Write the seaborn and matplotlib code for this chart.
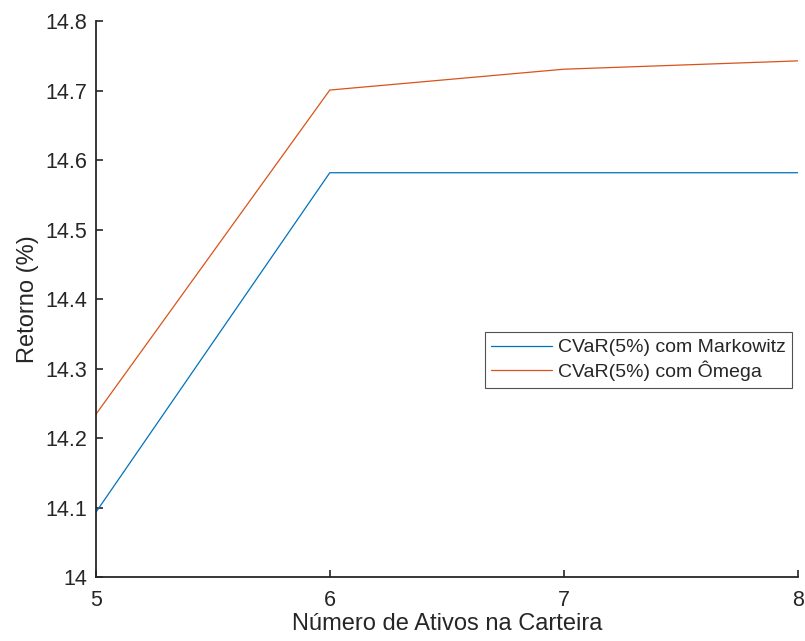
import pandas as pd
import matplotlib
matplotlib.use("Agg")
import matplotlib.pyplot as plt
import seaborn as sns

# dados
num_ativos = [5, 6, 7, 8]
ret_markowitz = [14.093, 14.582, 14.582, 14.582]
ret_omega = [14.234, 14.701, 14.731, 14.743]
nomes = ["CVaR(5%) com Markowitz", "CVaR(5%) com Ômega"]

df = pd.DataFrame({
    "ativos": num_ativos * 2,
    "retorno": ret_markowitz + ret_omega,
    "serie": [nomes[0]] * 4 + [nomes[1]] * 4,
})

sns.set_style("white")
plt.rcParams['font.family'] = ['Liberation Sans', 'DejaVu Sans']

fig = plt.figure(figsize=(8.05, 6.41), dpi=100)
ax = fig.add_axes([0.119, 0.0998, 0.872, 0.867])

sns.lineplot(data=df, x="ativos", y="retorno", hue="serie",
             palette=["#0072BD", "#D95319"], linewidth=0.9, ax=ax)

ax.set_xlim(5, 8)
ax.set_ylim(14, 14.8)
ax.set_xticks([5, 6, 7, 8])
ax.set_yticks([14 + 0.1 * i for i in range(9)])
ax.set_yticklabels(["14", "14.1", "14.2", "14.3", "14.4", "14.5", "14.6", "14.7", "14.8"])
ax.tick_params(direction="in", length=5, width=1.2, colors="#262626",
               labelsize=15.5, left=True, bottom=True)
ax.tick_params(axis="x", pad=9)
ax.tick_params(axis="y", pad=6)
for s in ["top", "right"]:
    ax.spines[s].set_visible(False)
for s in ["left", "bottom"]:
    ax.spines[s].set_color("#262626")
    ax.spines[s].set_linewidth(1.3)

ax.set_xlabel("Número de Ativos na Carteira", fontsize=17, color="#262626", labelpad=2)
ax.set_ylabel("Retorno (%)", fontsize=17, color="#262626", labelpad=5)

leg = ax.legend(loc="upper left", bbox_to_anchor=(0.554, 0.441), borderaxespad=0,
                fontsize=14, frameon=True, fancybox=False, handlelength=3.1,
                borderpad=0.35, labelspacing=0.2, handletextpad=0.3)
leg.get_frame().set_edgecolor("#262626")
leg.get_frame().set_linewidth(0.8)

fig.savefig("out.png", dpi=100)
